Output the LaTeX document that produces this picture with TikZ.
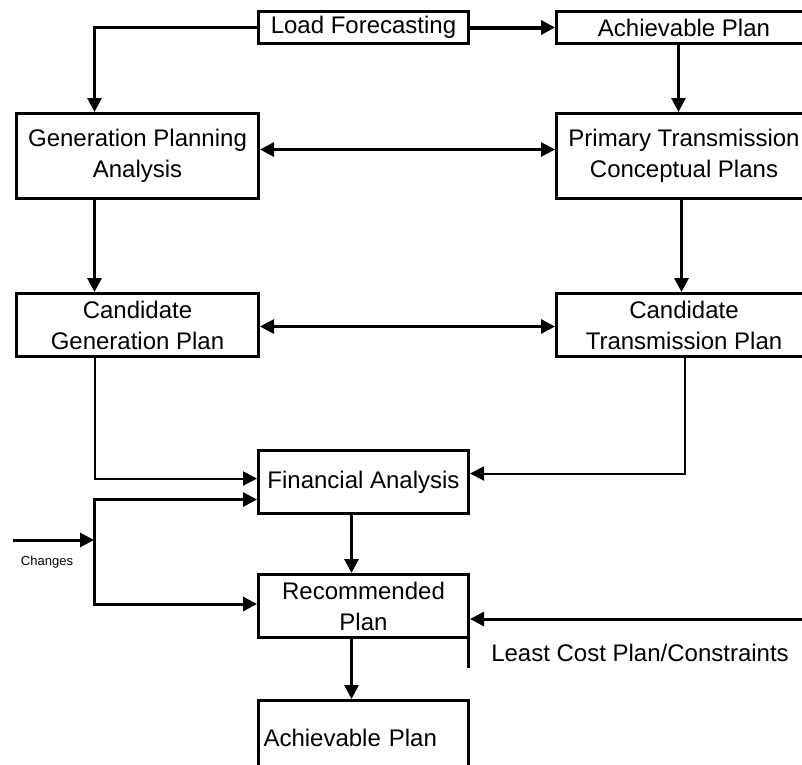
\documentclass[tikz,border=0pt]{standalone}
\usepackage{fontspec}
\setmainfont{Liberation Sans}
\usetikzlibrary{arrows.meta}
\begin{document}
\begin{tikzpicture}[x=1pt,y=-1pt,
  box/.style={draw=black, line width=3pt, inner sep=0pt, align=center,
    font=\fontsize{24}{31}\selectfont, anchor=north west},
  conn/.style={draw=black, line width=3pt},
  thin/.style={draw=black, line width=2pt},
  arr/.style={-{Triangle[length=14pt,width=14pt]}},
  darr/.style={{Triangle[length=14pt,width=14pt]}-{Triangle[length=14pt,width=14pt]}},
  lbl/.style={inner sep=0pt, font=\fontsize{24}{31}\selectfont}]
\useasboundingbox (0,0) rectangle (802,764);
\clip (0,0) rectangle (802,764);
\fill[white] (0,0) rectangle (802,764);
% boxes
\node[box, minimum width=210pt, minimum height=32pt] (lf) at (257,10) {Load Forecasting};
\node[box, minimum width=255pt, minimum height=32pt] (apt) at (555,10) {Achievable Plan};
\node[box, minimum width=242pt, minimum height=85pt] (gpa) at (15,112) {Generation Planning\\Analysis};
\node[box, minimum width=255pt, minimum height=85pt] (ptc) at (555,112) {Primary Transmission\\Conceptual Plans};
\node[box, minimum width=242pt, minimum height=63pt] (cgp) at (15,292) {Candidate\\Generation Plan};
\node[box, minimum width=255pt, minimum height=63pt] (ctp) at (555,292) {Candidate\\Transmission Plan};
\node[box, minimum width=210pt, minimum height=63pt] (fa) at (257,449) {Financial Analysis};
\node[box, minimum width=210pt, minimum height=63pt] (rp) at (257,573) {Recommended\\Plan};
\node[box, minimum width=210pt, minimum height=80pt, text width=200pt, align=left] (apb) at (257,699) {\raisebox{6pt}{Achievable Plan}};
% labels
\node[inner sep=0pt, font=\fontsize{13}{14}\selectfont] (chl) at (47,562) {Changes};
\node[lbl] (lcp) at (640,653) {Least Cost Plan/Constraints};
% free ends
\coordinate (chs) at (13,540);
\coordinate (chj) at (94,540);
\coordinate (lcs) at (810,619);
\coordinate (lcv) at (467,668);
% connectors
\draw[conn,arr] (lf.west) -| ([xshift=-43pt]gpa.north);
\draw[conn,arr,line width=4pt] (lf.east) -- (apt.west |- lf.east);
\draw[conn,arr] ([xshift=-5.5pt]apt.south) -- ([xshift=-5.5pt]ptc.north);
\draw[conn,darr] ([yshift=6.5pt]gpa.east) -- ([yshift=6.5pt]ptc.west);
\draw[conn,arr] ([xshift=-43pt]gpa.south) -- ([xshift=-43pt]cgp.north);
\draw[conn,arr] ([xshift=-2.5pt]ptc.south) -- ([xshift=-2.5pt]ctp.north);
\draw[conn,darr] ([yshift=-1.5pt]cgp.east) -- ([yshift=-1.5pt]ctp.west);
\draw[thin,arr] ([xshift=-43pt]cgp.south) |- ([yshift=3.5pt]fa.west);
\draw[thin,arr] ([xshift=0.5pt]ctp.south) |- ([yshift=8.5pt]fa.east);
\draw[conn,arr] (chs) -- (chj);
\draw[conn,arr] (chj) |- ([yshift=-17.5pt]fa.west);
\draw[conn,arr] (chj) |- ([yshift=2pt]rp.west);
\draw[conn,arr] ([xshift=-12pt]fa.south) -- ([xshift=-12pt]rp.north);
\draw[conn,arr] (lcs) -- (lcs -| rp.east);
\draw[conn] ([xshift=-1.5pt]rp.east) -- ([xshift=-1.5pt]rp.east |- lcv);
\draw[conn,arr] ([xshift=-12pt]rp.south) -- ([xshift=-12pt]apb.north);
\end{tikzpicture}
\end{document}
